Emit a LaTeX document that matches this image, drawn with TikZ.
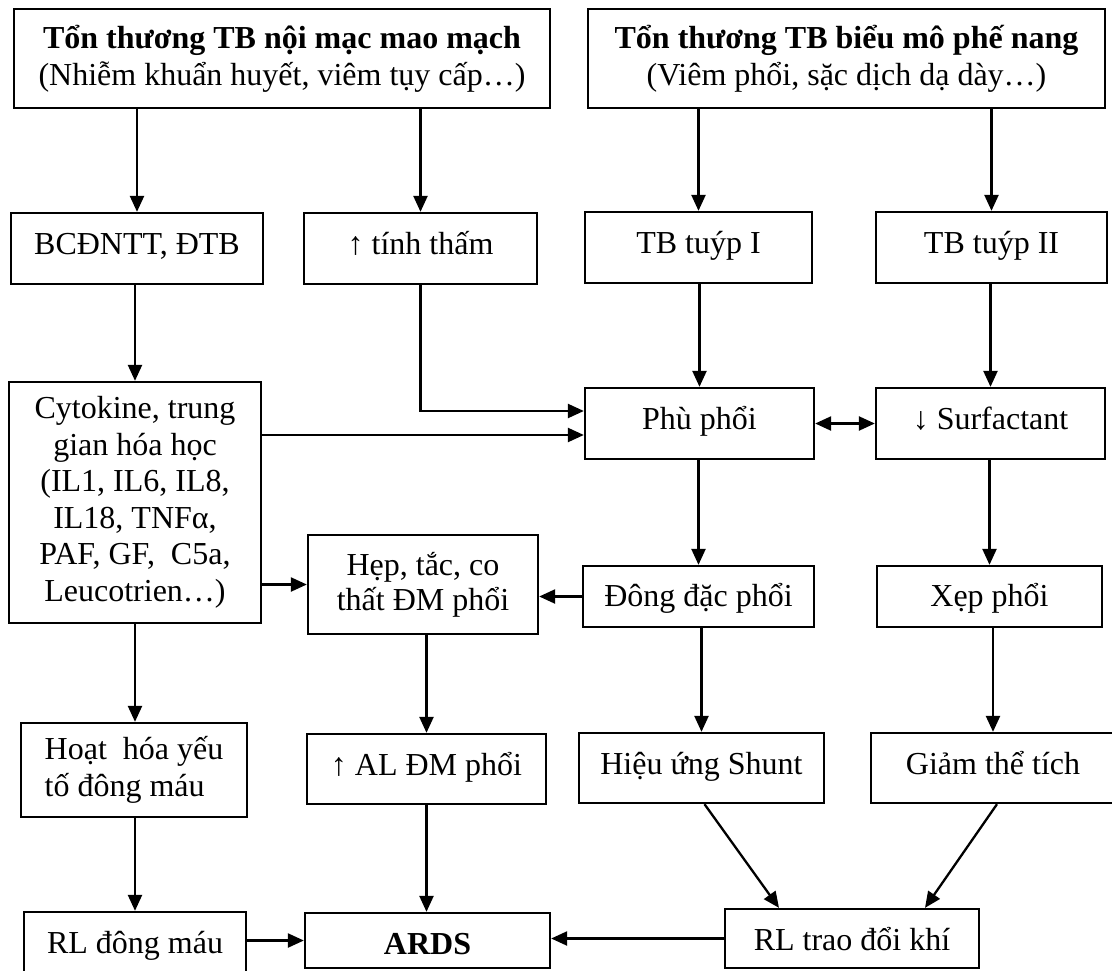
\documentclass[tikz,border=0pt]{standalone}
\usepackage{fontspec}
\setmainfont{Liberation Serif}
\usetikzlibrary{arrows.meta,calc}
\tikzset{
  box/.style={draw, line width=2.3pt, inner sep=0pt, align=center, font=\fontsize{32}{37}\selectfont},
  arr/.style={line width=2.3pt, -{Triangle[length=16pt,width=14pt]}},
  darr/.style={line width=2.3pt, {Triangle[length=16pt,width=14pt]}-{Triangle[length=16pt,width=14pt]}},
}
\begin{document}
\begin{tikzpicture}[x=1pt,y=-1pt]
\useasboundingbox (0,0) rectangle (1112,970);
\clip (0,0) rectangle (1112,970);
\fill[white] (0,0) rectangle (1112,970);
% row 1
\node[box, minimum width=536pt, minimum height=99pt] (tl) at (282,58.5)
  {\textbf{Tổn thương TB nội mạc mao mạch}\\(Nhiễm khuẩn huyết, viêm tụy cấp…)};
\node[box, minimum width=517pt, minimum height=99pt] (tr) at (846.5,58.5)
  {\textbf{Tổn thương TB biểu mô phế nang}\\(Viêm phổi, sặc dịch dạ dày…)};
% row 2
\node[box, minimum width=252pt, minimum height=71pt, text height=22pt, text depth=11pt] (bcd) at (137,248.5) {BCĐNTT, ĐTB};
\node[box, minimum width=233pt, minimum height=71pt, text height=22pt, text depth=11pt] (tinh) at (420.5,248.5) {↑ tính thấm};
\node[box, minimum width=227pt, minimum height=71pt, text height=22pt, text depth=11pt] (t1) at (698.5,247.5) {TB tuýp I};
\node[box, minimum width=231pt, minimum height=71pt, text height=22pt, text depth=11pt] (t2) at (991.5,247.5) {TB tuýp II};
% row 3
\node[box, minimum width=252pt, minimum height=241pt, font=\fontsize{32}{36.5}\selectfont] (cyto) at (135,502.5)
  {Cytokine, trung\\gian hóa học\\(IL1, IL6, IL8,\\IL18, TNFα,\\PAF, GF,\ \ C5a,\\Leucotrien…)};
\node[box, minimum width=229pt, minimum height=71pt, text height=22pt, text depth=11pt] (phu) at (699.5,423.5) {Phù phổi};
\node[box, minimum width=229pt, minimum height=71pt, text height=22pt, text depth=11pt] (surf) at (990.5,423.5) {↓ Surfactant};
% row 4
\node[box, minimum width=230pt, minimum height=99pt, font=\fontsize{32}{35}\selectfont] (hep) at (423,584.5)
  {Hẹp, tắc, co\\thất ĐM phổi};
\node[box, minimum width=231pt, minimum height=61pt, text height=24pt, text depth=4pt] (dong) at (698.5,596.5) {Đông đặc phổi};
\node[box, minimum width=225pt, minimum height=61pt, text height=24pt, text depth=4pt] (xep) at (989.5,596.5) {Xẹp phổi};
% row 5
\node[box, minimum width=226pt, minimum height=94pt, align=left] (hoat) at (134,770)
  {Hoạt\ \ hóa yếu\\tố đông máu};
\node[box, minimum width=239pt, minimum height=70pt, text height=22pt, text depth=10pt] (al) at (426.5,769) {↑ AL ĐM phổi};
\node[box, minimum width=245pt, minimum height=70pt, text height=22pt, text depth=10pt] (shunt) at (701.5,768) {Hiệu ứng Shunt};
\node[box, minimum width=244pt, minimum height=70pt, text height=22pt, text depth=10pt] (giam) at (993,768) {Giảm thể tích};
% row 6
\node[box, minimum width=222pt, minimum height=62pt, text height=24pt, text depth=4pt] (rldm) at (135,943) {RL đông máu};
\node[box, minimum width=245pt, minimum height=55pt, text height=30pt, text depth=3pt] (ards) at (427.5,940.5) {\textbf{ARDS}};
\node[box, minimum width=254pt, minimum height=59pt, text height=26pt, text depth=3pt] (rltd) at (852,938.5) {RL trao đổi khí};
% helper coordinates
\coordinate (phuin1) at ([yshift=12.5pt]phu.west);
\coordinate (phuin2) at ([yshift=-11.5pt]phu.west);
\coordinate (rltdin1) at ([xshift=-73pt]rltd.north);
\coordinate (rltdin2) at ([xshift=73pt]rltd.north);
\coordinate (shuntout) at ([xshift=3pt]shunt.south);
\coordinate (giamout) at ([xshift=4pt]giam.south);
% connectors
\draw[arr] (tl.south -| bcd.north) -- (bcd.north);
\draw[arr] (tl.south -| tinh.north) -- (tinh.north);
\draw[arr] (tr.south -| t1.north) -- (t1.north);
\draw[arr] (tr.south -| t2.north) -- (t2.north);
\draw[arr] (bcd.south -| cyto.north) -- (cyto.north);
\draw[arr] (tinh.south) |- (phuin1);
\draw[arr] (cyto.east |- phuin2) -- (phuin2);
\draw[arr] (t1.south -| phu.north) -- (phu.north);
\draw[arr] (t2.south -| surf.north) -- (surf.north);
\draw[darr] (phu.east) -- (surf.west);
\draw[arr] (cyto.east |- hep.west) -- (hep.west);
\draw[arr] (dong.west) -- (hep.east |- dong.west);
\draw[arr] (phu.south -| dong.north) -- (dong.north);
\draw[arr] (surf.south -| xep.north) -- (xep.north);
\draw[arr] (cyto.south) -- (cyto.south |- hoat.north);
\draw[arr] (hep.south -| al.north) -- (al.north);
\draw[arr] (dong.south -| shunt.north) -- (shunt.north);
\draw[arr] (xep.south -| giam.north) -- (giam.north);
\draw[arr] (hoat.south -| rldm.north) -- (rldm.north);
\draw[arr] (al.south) -- (al.south |- ards.north);
\draw[arr] (shuntout) -- (rltdin1);
\draw[arr] (giamout) -- (rltdin2);
\draw[arr] (rldm.east |- ards.west) -- (ards.west);
\draw[arr] (rltd.west) -- (ards.east |- rltd.west);
\end{tikzpicture}
\end{document}
